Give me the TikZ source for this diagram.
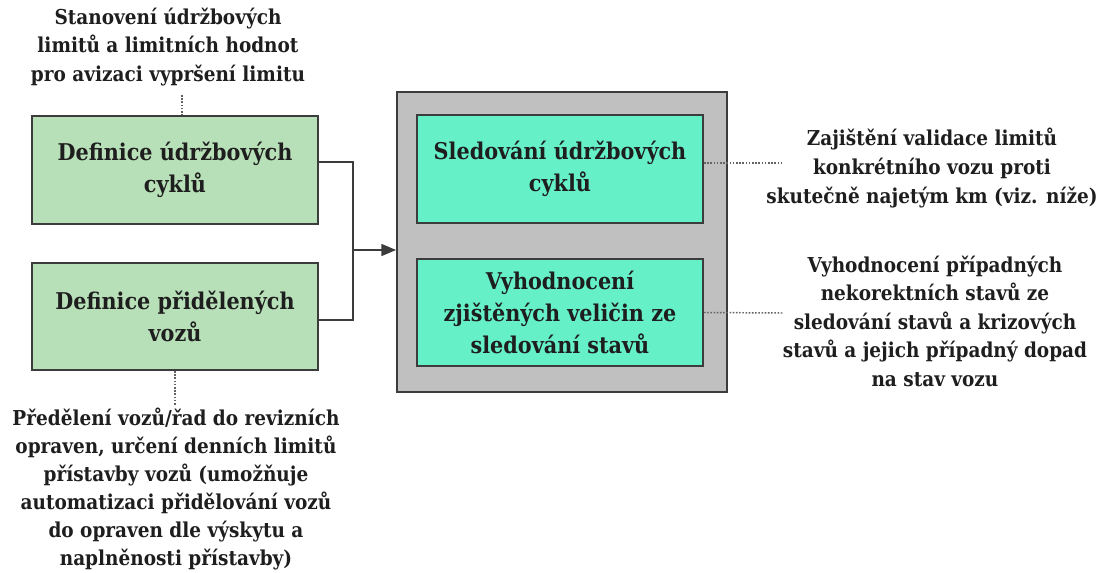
\documentclass[tikz,border=0pt]{standalone}
\usepackage{fontspec}
\setmainfont{DejaVu Serif Condensed}
\usetikzlibrary{arrows.meta,calc}
\definecolor{boxgreen}{RGB}{184,224,184}
\definecolor{boxteal}{RGB}{102,240,200}
\definecolor{boxgray}{RGB}{192,192,192}
\definecolor{edge}{RGB}{60,60,60}
\definecolor{ink}{RGB}{30,30,30}
\newlength{\pxu}\setlength{\pxu}{0.75pt}
\tikzset{
  stepbox/.style={draw=edge, line width=1.4pt, minimum width=286\pxu, align=center,
    font=\fontsize{17.3}{24}\selectfont\bfseries, text=ink, inner sep=0pt},
  note/.style={align=center, font=\fontsize{15.4}{21.4}\selectfont\bfseries, text=ink, inner sep=0pt},
  link/.style={draw=edge, line width=1.1pt},
  guide/.style={draw=edge!80, line width=1.1pt, dash pattern=on 1.2pt off 1.2pt},
}
\begin{document}
\begin{tikzpicture}[x=0.75pt, y=-0.75pt]
\useasboundingbox (0,0) rectangle (1108,572);
% left input boxes
\node[stepbox, fill=boxgreen, minimum height=108\pxu] (b1) at (175,170) {Definice údržbových\\cyklů};
\node[stepbox, fill=boxgreen, minimum height=107\pxu] (b2) at (175,316.5) {Definice přidělených\\vozů};
% processing block
\node[draw=edge, line width=1.4pt, fill=boxgray, minimum width=330\pxu, minimum height=300\pxu] (c) at (562,242) {};
\node[stepbox, fill=boxteal, minimum height=108\pxu] (s1) at (560,169) {Sledování údržbových\\cyklů};
\node[stepbox, fill=boxteal, minimum height=107\pxu] (s2) at (560,312.5) {Vyhodnocení\\zjištěných veličin ze\\sledování stavů};
% annotations
\node[note] (n1) at (168,47) {Stanovení údržbových\\limitů a limitních hodnot\\pro avizaci vypršení limitu};
\node[note, font=\fontsize{15.4}{21}\selectfont\bfseries] (n2) at (176,489) {Předělení vozů/řad do revizních\\opraven, určení denních limitů\\přístavby vozů (umožňuje\\automatizaci přidělování vozů\\do opraven dle výskytu a\\naplněnosti přístavby)};
\node[note] (n3) at (932,168) {Zajištění validace limitů\\konkrétního vozu proti\\skutečně najetým km (viz. níže)};
\node[note] (n4) at (935,321) {Vyhodnocení případných\\nekorektních stavů ze\\sledování stavů a krizových\\stavů a jejich případný dopad\\na stav vozu};
% merge connector
\coordinate (j1) at (353,162);
\coordinate (j2) at (353,320);
\coordinate (jm) at (353,250);
\draw[link] ($(b1.east)+(0,-8)$) -- (j1) -- (j2) -- ($(b2.east)+(0,3.5)$);
\draw[link, -{Triangle[length=11pt,width=9pt]}] (jm) -- (c.west |- jm);
% dotted guides to the notes
\coordinate (g1) at (783,163);
\coordinate (g2) at (783,313);
\coordinate (g0) at (182,95);
\coordinate (g3) at (175,405);
\draw[guide] ($(s1.east)+(0,-6)$) -- (g1);
\draw[guide] (s2.east) -- (g2);
\draw[guide] (g0) -- (b1.north -| g0);
\draw[guide] (b2.south) -- (g3);
\end{tikzpicture}
\end{document}
